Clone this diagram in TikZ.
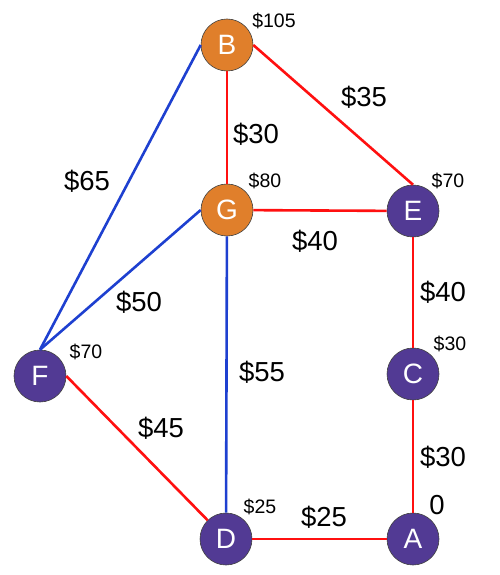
\documentclass[tikz,border=0pt]{standalone}
\usepackage{fontspec}
\setmainfont{Liberation Sans}
\definecolor{orng}{HTML}{E07F2B}
\definecolor{purp}{HTML}{523A94}
\definecolor{eblue}{HTML}{1E40D0}
\definecolor{ered}{HTML}{FF1010}
\begin{document}
\begin{tikzpicture}[x=1pt,y=-1pt,
  vert/.style={circle,draw=black!75,line width=0.6pt,minimum size=52pt,inner sep=0pt,text=white,font=\fontsize{28}{28}\selectfont},
  ov/.style={vert,fill=orng},
  pv/.style={vert,fill=purp},
  redE/.style={draw=ered,line width=2.6pt},
  blueE/.style={draw=eblue,line width=2.6pt},
  wlab/.style={font=\fontsize{27.5}{27.5}\selectfont,inner sep=0pt},
  slab/.style={font=\fontsize{19.5}{19.5}\selectfont,inner sep=0pt}]
\useasboundingbox (0,0) rectangle (500,575);
\node[ov] (B) at (227,45) {B};
\node[ov] (G) at (227,210) {G};
\node[pv] (E) at (413,211) {E};
\node[pv] (C) at (413,374) {C};
\node[pv] (A) at (413,539) {A};
\node[pv] (D) at (226,539) {D};
\node[pv] (F) at (40,376) {F};
\path[redE] (B) -- (G);
\path[redE] (B.east) -- (E.north);
\path[redE] (G) -- (E);
\path[redE] (E) -- (C);
\path[redE] (C) -- (A);
\path[redE] (D) -- (A);
\path[redE] (F.east) -- (D);
\path[blueE] (B.west) -- (F.north);
\path[blueE] (G.west) -- (F.north);
\path[blueE] (G) -- (D);
\node[wlab] (l65) at (87,181) {\$65};
\node[wlab] (l30a) at (256,134) {\$30};
\node[wlab] (l35) at (364,97) {\$35};
\node[wlab] (l40a) at (315,241) {\$40};
\node[wlab] (l40b) at (443,292) {\$40};
\node[wlab] (l50) at (139,302) {\$50};
\node[wlab] (l55) at (262,372) {\$55};
\node[wlab] (l45) at (161,428) {\$45};
\node[wlab] (l30b) at (443,457) {\$30};
\node[wlab] (l25) at (324,517) {\$25};
\node[slab] (sB) at (274,21) {\$105};
\node[slab] (sG) at (265,181) {\$80};
\node[slab] (sE) at (448,181) {\$70};
\node[slab] (sC) at (450,344) {\$30};
\node[slab] (sF) at (86,352) {\$70};
\node[slab] (sD) at (260,507) {\$25};
\node[wlab] (sA) at (437,505) {0};
\end{tikzpicture}
\end{document}
